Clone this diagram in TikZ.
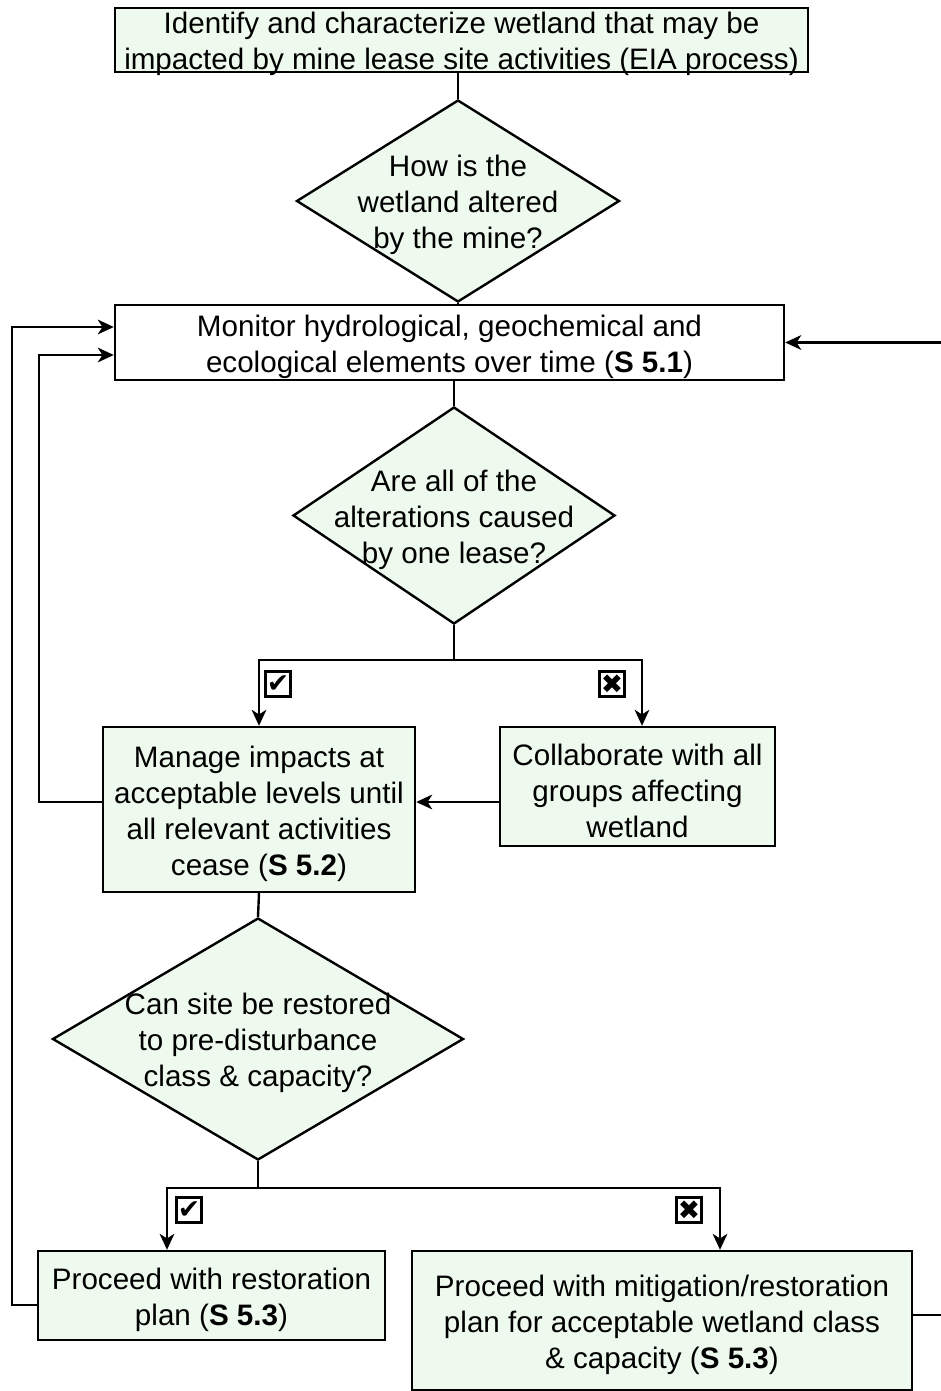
\documentclass[tikz,border=0pt]{standalone}
\usepackage{fontspec}
\setmainfont{Liberation Sans}
\newfontfamily\symfont{DejaVu Sans}
\usetikzlibrary{shapes.geometric,arrows.meta,calc}
\definecolor{boxfill}{RGB}{238,250,238}
\begin{document}
\begin{tikzpicture}[x=0.75pt,y=-0.75pt,
  every node/.style={font=\fontsize{22.2}{27}\selectfont, align=center, inner sep=0pt},
  box/.style={draw, line width=1.8pt, fill=boxfill, rectangle},
  dia/.style={draw, line width=1.8pt, fill=boxfill, diamond, inner sep=0pt},
  txt/.style={yshift=-3pt},
  conn/.style={line width=1.8pt},
  arr/.style={conn, -{Stealth[length=12pt,width=11pt,inset=3.5pt]}},
  chk/.style={draw, line width=2.4pt, minimum size=19pt, inner sep=0pt},
  glyph/.style={font=\symfont\fontsize{20}{20}\selectfont}
]
\useasboundingbox (0,0) rectangle (940,1391);

\node[box, minimum width=519.75pt, minimum height=48pt] (top) at (461.5,40) {};
\node[txt] (topt) at (top) {Identify and characterize wetland that may be\\impacted by mine lease site activities (EIA process)};

\node[dia, minimum width=242.25pt, minimum height=151.5pt] (d1) at (458,201) {};
\node[txt] (d1t) at (d1) {How is the\\wetland altered\\by the mine?};

\node[box, fill=white, minimum width=501.75pt, minimum height=56.25pt] (mon) at (449.5,342.5) {};
\node[txt] (mont) at (mon) {Monitor hydrological, geochemical and\\ecological elements over time (\textbf{S 5.1})};

\node[dia, minimum width=241.5pt, minimum height=162.75pt] (d2) at (454,515.5) {};
\node[txt] (d2t) at (d2) {Are all of the\\alterations caused\\by one lease?};

\node[box, minimum width=234pt, minimum height=123.75pt] (manage) at (259,809.5) {};
\node[txt] (managet) at (manage) {Manage impacts at\\acceptable levels until\\all relevant activities\\cease (\textbf{S 5.2})};

\node[box, minimum width=206.25pt, minimum height=89.25pt] (collab) at (637.5,786.5) {};
\node[txt] (collabt) at (collab) {Collaborate with all\\groups affecting\\wetland};

\node[dia, minimum width=308.25pt, minimum height=181.5pt] (d3) at (258,1039) {};
\node[txt] (d3t) at (d3) {Can site be restored\\to pre-disturbance\\class \& capacity?};

\node[box, minimum width=260.25pt, minimum height=66.75pt] (resto) at (211.5,1295.5) {};
\node[txt] (restot) at (resto) {Proceed with restoration\\plan (\textbf{S 5.3})};

\node[box, minimum width=375pt, minimum height=104.25pt] (mitig) at (662,1320.5) {};
\node[txt] (mitigt) at (mitig) {Proceed with mitigation/restoration\\plan for acceptable wetland class\\\& capacity (\textbf{S 5.3})};

% check boxes
\node[chk] (c1) at (278,684) {};
\node[glyph] (c1g) at (c1) {✔};
\node[chk] (x1) at (612,684) {};
\node[glyph] (x1g) at (x1) {✖};
\node[chk] (c2) at (189,1210) {};
\node[glyph] (c2g) at (c2) {✔};
\node[chk] (x2) at (689,1210) {};
\node[glyph] (x2g) at (x2) {✖};

% connectors
\draw[conn] (d1.north |- top.south) -- (d1.north);
\draw[conn] (d1.south) -- (d1.south |- mon.north);
\draw[conn] (d2.north |- mon.south) -- (d2.north);

\coordinate (j2) at (454,660);
\draw[conn] (d2.south) -- (j2);
\draw[arr] (j2) -| (manage.north);
\draw[arr] (j2) -| ($(collab.north)+(4.5,0)$);

\draw[arr] ($(collab.west)+(0,15.5)$) -- ($(manage.east)+(0,-7.5)$);
\draw[arr] ($(manage.west)+(0,-7.5)$) -- ++(-63,0) |- ($(mon.west)+(0,12.5)$);

\draw[conn] (manage.south) -- (d3.north);
\coordinate (j3) at (258,1188);
\draw[conn] (d3.south) -- (j3);
\draw[arr] (j3) -| ($(resto.north)+(-44.5,0)$);
\draw[arr] (j3) -| ($(mitig.north)+(58,0)$);

\draw[arr] ($(resto.west)+(0,9.5)$) -- ++(-25,0) |- ($(mon.west)+(0,-15.5)$);
\draw[arr] ($(mitig.east)+(0,-5.5)$) -- ++(30,0) |- (mon.east);
\end{tikzpicture}
\end{document}
